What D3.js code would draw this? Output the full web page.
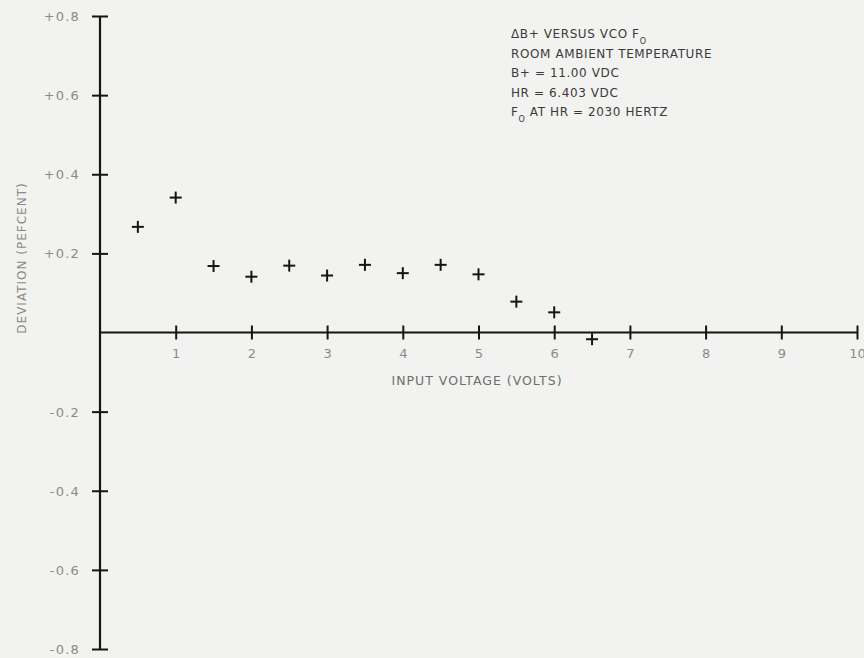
<!DOCTYPE html>
<html>
<head>
<meta charset="utf-8">
<script src="https://cdn.jsdelivr.net/npm/d3@7"></script>
<style>
  html, body { margin: 0; padding: 0; background: #f2f2f0; }
  svg { display: block; }
  text { font-family: "DejaVu Sans", sans-serif; }
</style>
</head>
<body>
<svg id="chart" width="864" height="658"></svg>
<script>
// Input voltage (volts) and percent deviation of VCO F0
const inputVoltage = [0.5, 1, 1.5, 2, 2.5, 3, 3.5, 4, 4.5, 5, 5.5, 6, 6.5];
const deviation = [0.267, 0.341, 0.168, 0.141, 0.169, 0.144, 0.171, 0.150, 0.171, 0.147, 0.078, 0.051, -0.017];

const xTicks = [1, 2, 3, 4, 5, 6, 7, 8, 9, 10];
const yTicks = [0.8, 0.6, 0.4, 0.2, -0.2, -0.4, -0.6, -0.8];
const yTickLabels = ["+0.8", "+0.6", "+0.4", "+0.2", "-0.2", "-0.4", "-0.6", "-0.8"];

const notes = [
  ["\u0394B+ VERSUS VCO F", "O", ""],
  ["ROOM AMBIENT TEMPERATURE", "", ""],
  ["B+ = 11.00 VDC", "", ""],
  ["HR = 6.403 VDC", "", ""],
  ["F", "O", " AT HR = 2030 HERTZ"]
];

const svg = d3.select("#chart");

const x = d3.scaleLinear().domain([0, 10]).range([100, 857]);
const y = d3.scaleLinear().domain([-0.8, 0.8]).range([649, 16]);

const ink = "#151515";
const labelGrey = "#8a8a8a";

// vertical axis with cross ticks
const yAxis = d3.axisLeft(y).tickValues(yTicks).tickSize(0).tickFormat("");
const gy = svg.append("g").attr("transform", `translate(${x(0)},0)`).call(yAxis);
gy.select(".domain").remove();
gy.append("line")
  .attr("x1", 0).attr("x2", 0)
  .attr("y1", y(0.8)).attr("y2", y(-0.8))
  .attr("stroke", ink).attr("stroke-width", 2.2);
gy.selectAll(".tick").append("line")
  .attr("x1", -8).attr("x2", 8)
  .attr("stroke", ink).attr("stroke-width", 2);
gy.selectAll(".tick").append("text")
  .attr("x", -20).attr("dy", "0.35em")
  .attr("text-anchor", "end")
  .attr("fill", labelGrey)
  .attr("font-size", 13)
  .attr("letter-spacing", 1.2)
  .text((d, i) => yTickLabels[i]);

// horizontal axis through zero
const xAxis = d3.axisBottom(x).tickValues(xTicks).tickSize(0).tickFormat("");
const gx = svg.append("g").attr("transform", `translate(0,${y(0)})`).call(xAxis);
gx.select(".domain").remove();
gx.append("line")
  .attr("x1", x(0)).attr("x2", x(10))
  .attr("y1", 0).attr("y2", 0)
  .attr("stroke", ink).attr("stroke-width", 1.8);
gx.selectAll(".tick").append("line")
  .attr("y1", -7).attr("y2", 7)
  .attr("stroke", ink).attr("stroke-width", 2);
gx.selectAll(".tick").append("text")
  .attr("y", 25)
  .attr("text-anchor", "middle")
  .attr("fill", labelGrey)
  .attr("font-size", 13)
  .text(d => d);

// axis titles
svg.append("text")
  .attr("x", 477).attr("y", 385)
  .attr("text-anchor", "middle")
  .attr("fill", "#6e6e6e")
  .attr("font-size", 12.5)
  .attr("letter-spacing", 1)
  .text("INPUT VOLTAGE (VOLTS)");

svg.append("text")
  .attr("transform", `translate(26,258) rotate(-90)`)
  .attr("text-anchor", "middle")
  .attr("fill", labelGrey)
  .attr("font-size", 12)
  .attr("letter-spacing", 1)
  .text("DEVIATION (PEFCENT)");

// measured points as plus marks
const pts = svg.append("g").selectAll("g")
  .data(inputVoltage.map((v, i) => ({ v, d: deviation[i] })))
  .join("g")
  .attr("transform", p => `translate(${x(p.v)},${y(p.d)})`)
  .attr("stroke", ink).attr("stroke-width", 2);
pts.append("line").attr("x1", -6).attr("x2", 6);
pts.append("line").attr("y1", -6).attr("y2", 6);

// test conditions block
const note = svg.append("g").attr("fill", "#3a3a3a").attr("font-size", 12).attr("letter-spacing", 0.6);
notes.forEach((n, i) => {
  const t = note.append("text").attr("x", 511).attr("y", 38 + i * 19.5);
  t.append("tspan").text(n[0]);
  if (n[1]) {
    t.append("tspan").attr("dy", 6).attr("font-size", 8).text(n[1]);
    if (n[2]) t.append("tspan").attr("dy", -6).text(n[2]);
  }
});
</script>
</body>
</html>
